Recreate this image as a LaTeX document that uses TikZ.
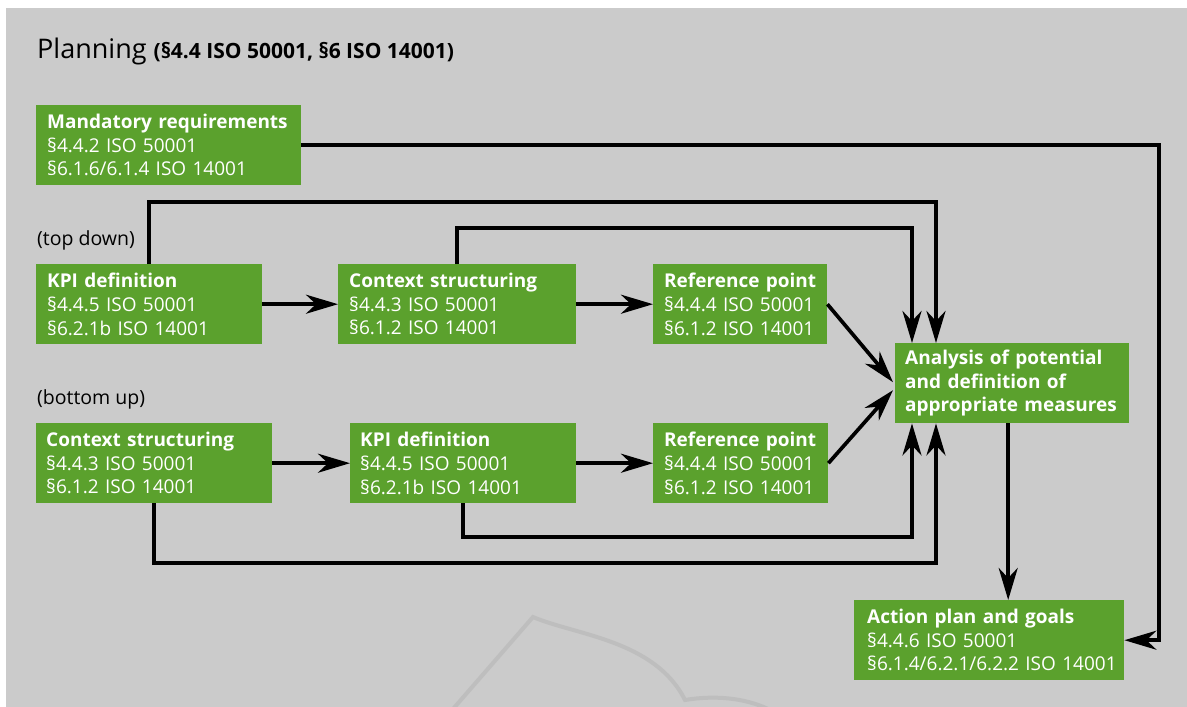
\documentclass[tikz,border=0pt]{standalone}
\usepackage{fontspec}
\setmainfont{Open Sans}
\usetikzlibrary{arrows.meta,calc}
\definecolor{bggray}{HTML}{CBCBCB}
\definecolor{wmgray}{HTML}{BEBEBE}
\definecolor{boxgreen}{HTML}{5BA12D}
\newcommand\threelines[3]{\mbox{#1}\\\mbox{#2}\\\mbox{#3}}
\begin{document}
\begin{tikzpicture}[x=1pt,y=-1pt,
  box/.style={fill=boxgreen,text=white,anchor=north west,minimum height=80pt,
    inner xsep=11pt,inner ysep=0pt,align=left,
    font=\fontsize{19}{23.7}\selectfont},
  conn/.style={line width=3.7pt,draw=black},
  arr/.style={conn,-{Stealth[length=32pt,width=19pt,inset=10pt]}},
  lbl/.style={anchor=base west,inner sep=0pt,font=\fontsize{19.5}{24}\selectfont},
  wm/.style={draw=wmgray,line width=4pt}]
\useasboundingbox (0,0) rectangle (1187,707);
\fill[white] (0,0) rectangle (1187,707);
\fill[bggray] (6,8) rectangle (1187,707);
% watermark
\draw[wm] (453,709) -- (533,617) .. controls (575,635) and (655,640) .. (685,700)
  .. controls (715,695) and (745,698) .. (768,709);

% title and labels
\node[lbl,font=\fontsize{27}{32}\selectfont] (title) at (37,58)
  {Planning {\fontsize{21}{25}\selectfont\bfseries(§4.4 ISO 50001, §6 ISO 14001)}};
\node[lbl] (td) at (37,245) {(top down)};
\node[lbl] (bu) at (37,404) {(bottom up)};

% boxes
\node[box,text width=243pt] (mand) at (36,105)
  {\threelines{\bfseries Mandatory requirements}{§4.4.2 ISO 50001}{§6.1.6/6.1.4 ISO 14001}};
\node[box,text width=204pt] (kpiT) at (36,264)
  {\threelines{\bfseries KPI definition}{§4.4.5 ISO 50001}{§6.2.1b ISO 14001}};
\node[box,text width=216pt] (ctxT) at (338,264)
  {\threelines{\bfseries Context structuring}{§4.4.3 ISO 50001}{§6.1.2 ISO 14001}};
\node[box,text width=152pt] (refT) at (653,264)
  {\threelines{\bfseries Reference point}{§4.4.4 ISO 50001}{§6.1.2 ISO 14001}};
\node[box,text width=214pt,inner xsep=10pt] (ana) at (895,343)
  {\threelines{\bfseries Analysis of potential}{\bfseries and definition of}{\bfseries appropriate measures}};
\node[box,text width=216pt,inner xsep=10pt] (ctxB) at (36,423)
  {\threelines{\bfseries Context structuring}{§4.4.3 ISO 50001}{§6.1.2 ISO 14001}};
\node[box,text width=206pt,inner xsep=10pt] (kpiB) at (350,423)
  {\threelines{\bfseries KPI definition}{§4.4.5 ISO 50001}{§6.2.1b ISO 14001}};
\node[box,text width=153pt] (refB) at (653,423)
  {\threelines{\bfseries Reference point}{§4.4.4 ISO 50001}{§6.1.2 ISO 14001}};
\node[box,text width=244pt,inner xsep=13pt] (act) at (854,600)
  {\threelines{\bfseries Action plan and goals}{§4.4.6 ISO 50001}{§6.1.4/6.2.1/6.2.2 ISO 14001}};

% helper coordinates
\coordinate (yT1) at (0,202);
\coordinate (yT2) at (0,228);
\coordinate (yB1) at (0,537);
\coordinate (yB2) at (0,563);
\coordinate (xR) at (1159,0);
\coordinate (anaIn) at ($(ana.north west)+(17,0)$);
\coordinate (anaOut) at ($(ana.north west)+(41,0)$);
\coordinate (anaInB) at ($(ana.south west)+(17,0)$);
\coordinate (anaOutB) at ($(ana.south west)+(41,0)$);
\coordinate (d1) at ($(ana.south)+(-4,0)$);
\coordinate (diagT) at ($(ana.west)+(-2,-1)$);
\coordinate (diagB) at ($(ana.west)+(-2,7)$);

% connectors
\draw[arr] (mand.east) -| (xR |- act.east) -- (act.east);
\draw[arr] (kpiT.north) |- (yT1 -| anaOut) -- (anaOut);
\draw[arr] (ctxT.north) |- (yT2 -| anaIn) -- (anaIn);
\draw[arr] (ctxB.south) |- (yB2 -| anaOutB) -- (anaOutB);
\draw[arr] (kpiB.south) |- (yB1 -| anaInB) -- (anaInB);
\draw[arr] (kpiT.east) -- (ctxT.west);
\draw[arr] (ctxT.east) -- (refT.west);
\draw[arr] (ctxB.east) -- (kpiB.west);
\draw[arr] (kpiB.east) -- (refB.west);
\draw[arr] (refT.east) -- (diagT);
\draw[arr] (refB.east) -- (diagB);
\draw[arr] (d1) -- (d1 |- act.north);
\end{tikzpicture}
\end{document}
